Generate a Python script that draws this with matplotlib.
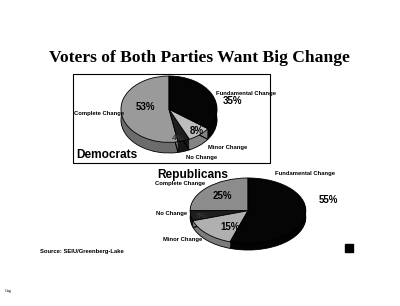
import matplotlib
matplotlib.use("Agg")
import matplotlib.pyplot as plt
from matplotlib.patches import Rectangle

# data
categories = ["Complete Change", "No Change", "Minor Change", "Fundamental Change"]
dem_values = [53, 4, 8, 35]
rep_values = [25, 5, 15, 55]
dem_colors = ["#9a9a9a", "#1e1e1e", "#bdbdbd", "#050505"]
rep_colors = ["#8c8c8c", "#1e1e1e", "#b0b0b0", "#050505"]

W, H = 400, 306
fig = plt.figure(figsize=(4.0, 3.06), dpi=100)
fig.patch.set_facecolor("white")

# background axes in pixel coordinates
bg = fig.add_axes([0, 0, 1, 1])
bg.set_xlim(0, W)
bg.set_ylim(H, 0)
bg.axis("off")
bg.add_patch(Rectangle((73, 74), 197, 89, fill=False, edgecolor="black", linewidth=0.8))


def shade(c, f=0.7):
    rgb = matplotlib.colors.to_rgb(c)
    return tuple(v * f for v in rgb)


def pie3d(x0, y0, w, h, values, colors, depth):
    # axes placed in pixel units, pie drawn with ax.pie and squashed into an ellipse
    ax = fig.add_axes([x0 / W, 1 - (y0 + h) / H, w / W, h / H])
    steps = 12
    for i in range(steps, 0, -1):
        off = depth * i / steps
        ax.pie(values, colors=[shade(c) for c in colors], startangle=90,
               counterclock=True, center=(0, -off), radius=1,
               wedgeprops=dict(linewidth=0), frame=False)
    ax.pie(values, colors=["none"] * len(values), startangle=90, center=(0, -depth),
           radius=1, wedgeprops=dict(edgecolor="black", linewidth=0.6), frame=False)
    ax.pie(values, colors=colors, startangle=90, counterclock=True, radius=1,
           wedgeprops=dict(edgecolor="black", linewidth=0.6), frame=False)
    ax.set_aspect("auto")
    ax.set_xlim(-1.02, 1.02)
    ax.set_ylim(-1 - depth - 0.03, 1.03)
    ax.axis("off")
    return ax


pie3d(120, 75, 98, 79, dem_values, dem_colors, 0.32)
pie3d(189, 177, 118, 74, rep_values, rep_colors, 0.2)

# text overlay
top = fig.add_axes([0, 0, 1, 1])
top.set_xlim(0, W)
top.set_ylim(H, 0)
top.axis("off")
top.patch.set_alpha(0)

sans = "Liberation Sans"
top.text(199, 58, "Voters of Both Parties Want Big Change", ha="center", va="center",
         family="Liberation Serif", weight="bold", fontsize=12.6)


def lab(x, y, s, size=4.2, ha="left", color="black"):
    top.text(x, y, s, ha=ha, va="center", family=sans, weight="bold",
             fontsize=size, color=color)


# Democrats
lab(216, 93, "Fundamental Change")
lab(232, 101, "35%", 7, "center")
lab(145, 107, "53%", 7, "center")
lab(74, 114, "Complete Change")
lab(197, 131, "8%", 7, "center")
lab(178, 138, "4%", 6, "center", "#333333")
lab(208, 147, "Minor Change")
lab(186, 158, "No Change")
lab(76, 155, "Democrats", 8.6)

# Republicans
lab(157, 175, "Republicans", 8.6)
lab(155, 184, "Complete Change")
lab(275, 174, "Fundamental Change")
lab(328, 200, "55%", 7, "center")
lab(222, 196, "25%", 7, "center")
lab(156, 214, "No Change")
lab(202, 217, "5%", 6, "center", "#333333")
lab(230, 227, "15%", 7, "center")
lab(163, 240, "Minor Change")

lab(40, 251, "Source: SEIU/Greenberg-Lake")
top.add_patch(Rectangle((345, 244), 8, 8, color="black"))
top.text(5, 292, "Gug", fontsize=3, family="Liberation Serif")

fig.savefig("out.png", dpi=100, facecolor="white")
